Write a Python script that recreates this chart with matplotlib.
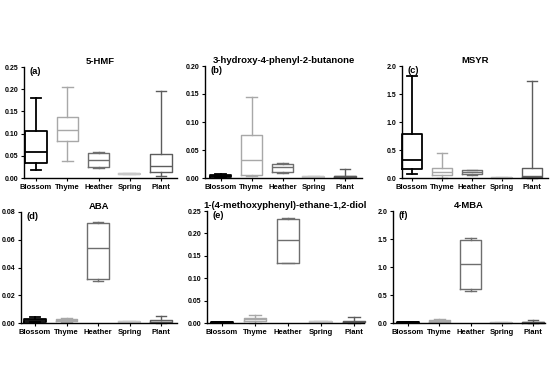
import matplotlib
matplotlib.use("Agg")
import matplotlib.pyplot as plt
import numpy as np

plt.rcParams['font.family'] = ['Liberation Sans', 'DejaVu Sans']
plt.rcParams['font.weight'] = 'bold'

categories = ['Blossom', 'Thyme', 'Heather', 'Spring', 'Plant']
colors = ['#000000', '#a8a8a8', '#6e6e6e', '#c8c8c8', '#5c5c5c']
widths_lw = [1.3, 1.0, 1.0, 1.6, 1.0]

titles = ['5-HMF', '3-hydroxy-4-phenyl-2-butanone', 'MSYR',
          'ABA', '1-(4-methoxyphenyl)-ethane-1,2-diol', '4-MBA']
labels = ['(a)', '(b)', '(c)', '(d)', '(e)', '(f)']

# per category: min, q1, median, q3, max
hmf = [[0.017, 0.033, 0.058, 0.106, 0.180],
       [0.038, 0.083, 0.107, 0.137, 0.204],
       [0.023, 0.025, 0.041, 0.057, 0.058],
       [0.009, 0.009, 0.009, 0.009, 0.009],
       [0.005, 0.013, 0.028, 0.055, 0.195]]
hpb = [[0.001, 0.002, 0.004, 0.006, 0.008],
       [0.003, 0.005, 0.033, 0.077, 0.144],
       [0.009, 0.011, 0.019, 0.025, 0.026],
       [0.0015, 0.0015, 0.0015, 0.0015, 0.0015],
       [0.000, 0.001, 0.003, 0.004, 0.016]]
msyr = [[0.08, 0.16, 0.32, 0.78, 1.82],
        [0.00, 0.05, 0.10, 0.17, 0.45],
        [0.06, 0.07, 0.10, 0.14, 0.15],
        [0.005, 0.005, 0.005, 0.005, 0.005],
        [0.00, 0.02, 0.04, 0.17, 1.73]]
aba = [[0.0005, 0.001, 0.002, 0.003, 0.004],
       [0.001, 0.0015, 0.002, 0.003, 0.0035],
       [0.030, 0.032, 0.054, 0.072, 0.073],
       [0.0005, 0.0005, 0.0005, 0.0005, 0.0005],
       [0.000, 0.0005, 0.001, 0.002, 0.005]]
mped = [[0.001, 0.001, 0.002, 0.003, 0.003],
        [0.001, 0.004, 0.008, 0.012, 0.017],
        [0.133, 0.135, 0.185, 0.233, 0.235],
        [0.002, 0.002, 0.002, 0.002, 0.002],
        [0.000, 0.002, 0.003, 0.005, 0.013]]
mba = [[0.000, 0.005, 0.010, 0.015, 0.020],
       [0.010, 0.020, 0.040, 0.050, 0.070],
       [0.58, 0.61, 1.06, 1.49, 1.51],
       [0.005, 0.005, 0.005, 0.005, 0.005],
       [0.000, 0.005, 0.010, 0.020, 0.050]]
datasets = [hmf, hpb, msyr, aba, mped, mba]

yticks = [np.arange(0, 0.251, 0.05), np.arange(0, 0.201, 0.05), np.arange(0, 2.01, 0.5),
          np.arange(0, 0.081, 0.02), np.arange(0, 0.251, 0.05), np.arange(0, 2.01, 0.5)]
yfmt = ['%.2f', '%.2f', '%.1f', '%.2f', '%.2f', '%.1f']

W, H = 550, 389
# spine px, axis end px, blossom center px, plant center px, top px, bottom px
layout = [(24, 177, 36, 161, 67, 178),
          (205, 362, 220.5, 345, 66, 178),
          (402, 548, 412, 532, 66, 178),
          (21, 177, 35, 161, 212, 323),
          (207, 364, 222, 354, 211, 323),
          (393, 545, 408, 533, 211, 323)]

fig = plt.figure(figsize=(W / 100, H / 100), dpi=100)

for k in range(6):
	x0, x1, bc, pc, top, bot = layout[k]
	ax = fig.add_axes([x0 / W, 1 - bot / H, (x1 - x0) / W, (bot - top) / H])
	s = (pc - bc) / 4
	ax.set_xlim(1 - (bc - x0) / s, 5 + (x1 - pc) / s)
	ax.set_ylim(0, yticks[k][-1])
	for i, vals in enumerate(datasets[k]):
		st = [dict(whislo=vals[0], q1=vals[1], med=vals[2], q3=vals[3], whishi=vals[4], fliers=[])]
		c = colors[i]
		lw = widths_lw[i]
		art = ax.bxp(st, positions=[i + 1], widths=0.68, capwidths=0.34, showfliers=False,
		             boxprops=dict(color=c, linewidth=lw),
		             medianprops=dict(color=c, linewidth=lw),
		             whiskerprops=dict(color=c, linewidth=lw),
		             capprops=dict(color=c, linewidth=lw), manage_ticks=False)
		for key in art:
			for a in art[key]:
				a.set_clip_on(False)
	ax.spines['top'].set_visible(False)
	ax.spines['right'].set_visible(False)
	ax.spines['left'].set_linewidth(1.0)
	ax.spines['bottom'].set_linewidth(1.0)
	ax.set_xticks(range(1, 6))
	ax.set_xticklabels(categories, fontsize=5.5, fontweight='bold')
	ax.set_yticks(yticks[k])
	ax.set_yticklabels([yfmt[k] % v for v in yticks[k]], fontsize=5, fontweight='bold')
	ax.tick_params(axis='x', length=2, width=0.8, pad=2)
	ax.tick_params(axis='y', length=2.5, width=0.8, pad=1.5)
	ax.set_title(titles[k], fontsize=6.8, fontweight='bold', pad=2)
	ax.text(0.035, 1.0, labels[k], transform=ax.transAxes, fontsize=6.8, fontweight='bold',
	        va='top', ha='left')

fig.savefig('out.png', dpi=100)
